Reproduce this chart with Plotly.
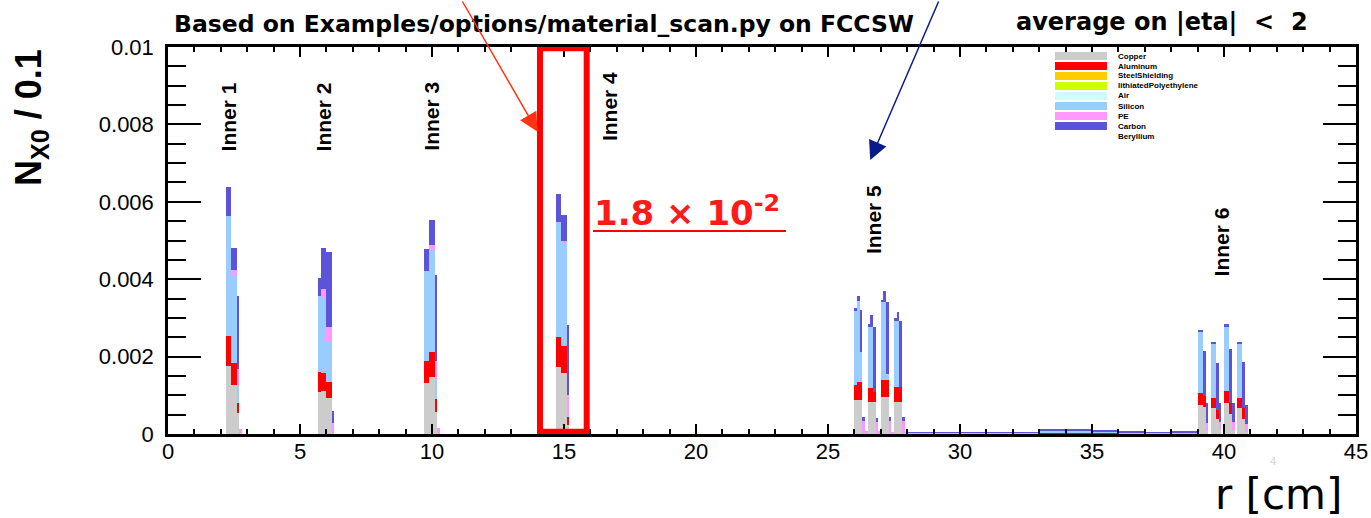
import numpy as np
import plotly.graph_objects as go

# ---- histogram bins (left edge, width) in r [cm] ----
bin_lo = [2.2, 2.3, 2.4, 2.5, 2.6, 2.7,
          5.7, 5.8, 5.9, 6.0, 6.1, 6.2,
          9.7, 9.8, 9.9, 10.0, 10.1, 10.2,
          14.7, 14.8, 14.9, 15.0, 15.1,
          26.0, 26.1, 26.2, 26.3, 26.4, 26.5, 26.6, 26.7, 26.8, 26.9,
          27.0, 27.1, 27.2, 27.3, 27.4, 27.5, 27.6, 27.7, 27.8, 27.9,
          28, 29, 30, 31, 32, 33, 34, 35, 36, 37, 38,
          39.0, 39.1, 39.2, 39.3, 39.5, 39.6, 39.7, 39.8,
          40.0, 40.1, 40.2, 40.3, 40.5, 40.6, 40.7, 40.8]
bin_w = [0.1] * 43 + [1.0] * 11 + [0.1] * 16

# ---- N_X0 per material for each bin ----
copper = [0.00176, 0.00176, 0.00127, 0.00127, 0.00053, 0,
          0.00108, 0.00112, 0.00112, 0.00092, 0.00092, 0,
          0.00133, 0.00133, 0.00147, 0.00147, 0.00058, 0,
          0.00174, 0.00174, 0.00157, 0.00157, 0.00023,
          0.00088, 0.00088, 0.00088, 0.00003, 0, 0.00083, 0.00083, 0.00083, 0.00003, 0,
          0.00096, 0.00096, 0.00096, 0.00003, 0, 0.00083, 0.00083, 0.00083, 0.00003, 0,
          0, 0, 0, 0, 0, 0, 0, 0, 0, 0, 0,
          0.00075, 0.00075, 0.0007, 0.00007, 0.00066, 0.00066, 0.0004, 0.0001,
          0.00079, 0.00079, 0.00052, 0.0001, 0.00066, 0.00066, 0.0004, 0.00005]
aluminum = [0.00078, 0.00078, 0.00057, 0.00057, 0.00028, 0,
            0.00053, 0.00045, 0.00045, 0.00043, 0.00043, 0,
            0.00056, 0.00056, 0.00066, 0.00066, 0.00032, 0,
            0.00077, 0.00077, 0.0007, 0.0007, 0.00022,
            0.00039, 0.00047, 0.00047, 0, 0, 0.00035, 0.00035, 0.00026, 0, 0,
            0.00044, 0.00044, 0.00044, 0, 0, 0.00039, 0.00039, 0.00039, 0, 0,
            0, 0, 0, 0, 0, 0.00003, 0.00003, 0.00003, 0, 0, 0,
            0.0003, 0.0003, 0.00028, 0, 0.00026, 0.00026, 0.00022, 0,
            0.00032, 0.00032, 0.00027, 0, 0.00028, 0.00028, 0.00026, 0]
steel = [0, 0, 0, 0, 0, 0,
         0, 0, 0, 0, 0, 0,
         0, 0, 0, 0, 0, 0,
         0, 0, 0, 0, 0,
         0, 0, 0, 0, 0, 0, 0, 0, 0, 0,
         0, 0, 0, 0, 0, 0, 0, 0, 0, 0,
         0, 0, 0, 0, 0, 0.00002, 0.00002, 0, 0, 0, 0,
         0, 0, 0, 0, 0, 0, 0, 0,
         0, 0, 0, 0, 0, 0, 0, 0]
lithiated_pe = [0] * 70
air = [0] * 70
silicon = [0.00309, 0.00309, 0.00226, 0.00226, 0.00046, 0,
           0.00196, 0.00194, 0.00194, 0.00105, 0.00105, 0,
           0.00232, 0.00232, 0.00262, 0.00262, 0.0005, 0,
           0.00298, 0.00298, 0.00267, 0.00267, 0.00002,
           0.00192, 0.00208, 0.00078, 0, 0, 0.00159, 0.00159, 0, 0, 0.00002,
           0.002, 0.00201, 0.00015, 0, 0, 0.00171, 0.00171, 0, 0, 0,
           0.00003, 0.00003, 0.00003, 0.00003, 0.00003, 0.00003, 0.00003,
           0.00003, 0.00003, 0.00003, 0.00003,
           0.00158, 0.00158, 0, 0, 0.00141, 0.00141, 0, 0,
           0.00166, 0.00166, 0, 0, 0.00138, 0.00138, 0, 0]
pe = [0, 0, 0.00014, 0.00014, 0.00041, 0.00013,
      0, 0.00023, 0.00023, 0.00037, 0.00037, 0.00028,
      0, 0, 0.00013, 0.00013, 0.00049, 0.00015,
      0, 0, 0.00006, 0.00006, 0.00053,
      0, 0, 0, 0.0003, 0.00008, 0, 0, 0, 0.00028, 0.00005,
      0, 0, 0, 0.0003, 0.00006, 0, 0, 0, 0.0003, 0.00005,
      0, 0, 0, 0, 0, 0, 0, 0, 0, 0, 0,
      0, 0, 0, 0.00021, 0, 0, 0, 0.00022,
      0, 0, 0, 0.00022, 0, 0, 0, 0.00022]
carbon = [0.00076, 0.00076, 0.00056, 0.00056, 0.00189, 0,
          0.00047, 0.00107, 0.00107, 0.00194, 0.00194, 0.00031,
          0.00057, 0.00057, 0.00065, 0.00065, 0.00222, 0,
          0.00071, 0.00071, 0.00066, 0.00066, 0.00181,
          0.00006, 0.00014, 0.00107, 0.0001, 0, 0.00006, 0.0003, 0.00168, 0.0001, 0,
          0.00006, 0.00029, 0.00187, 0.0001, 0, 0.00006, 0.00023, 0.00171, 0.0001, 0,
          0.00002, 0.00002, 0.00002, 0.00002, 0.00002, 0.00003, 0.00003,
          0.00003, 0.00003, 0.00002, 0.00003,
          0.00006, 0.00006, 0.00117, 0.00051, 0.00006, 0.00006, 0.00122, 0.00047,
          0.00007, 0.00007, 0.00141, 0.00047, 0.00006, 0.00006, 0.00121, 0.00047]
beryllium = [0] * 70

materials = ["Copper", "Aluminum", "SteelShielding", "lithiatedPolyethylene",
             "Air", "Silicon", "PE", "Carbon", "Beryllium"]
colors = ["#cccccc", "#ff0000", "#ffcc00", "#ccff00",
          "#ccffff", "#99ccff", "#ff99ff", "#5b54d8", "#ffffff"]
series = [copper, aluminum, steel, lithiated_pe, air, silicon, pe, carbon, beryllium]

x_ticks = [0, 5, 10, 15, 20, 25, 30, 35, 40, 45]
y_ticks = [0, 0.002, 0.004, 0.006, 0.008, 0.01]
y_ticktext = ["0", "0.002", "0.004", "0.006", "0.008", "0.01"]

inner_labels = ["Inner 1", "Inner 2", "Inner 3", "Inner 4", "Inner 5", "Inner 6"]
inner_r = [2.3, 5.9, 10.0, 16.7, 26.7, 39.9]
inner_y = [0.00820, 0.00820, 0.00820, 0.00847, 0.00555, 0.00496]

# ---- frame geometry (pixels) ----
W, H = 1371, 518
ML, MR, MT, MB = 168, 15, 47, 84
PL, PR, PT, PB = ML, W - MR, MT, H - MB


def px_x(p):
    return (p - PL) / (PR - PL)


def px_y(p):
    return (PB - p) / (PB - PT)


centers = np.array(bin_lo) + np.array(bin_w) / 2

fig = go.Figure()
for name, col, vals in zip(materials, colors, series):
    fig.add_trace(go.Bar(
        x=centers, y=vals, width=bin_w, name=name,
        marker=dict(color=col, line=dict(width=0)),
        showlegend=False,
    ))

axis_font = dict(family="Liberation Sans, Arial, sans-serif", size=22, color="black")

fig.update_layout(
    width=W, height=H,
    margin=dict(l=ML, r=MR, t=MT, b=MB, pad=0, autoexpand=False),
    barmode="stack", bargap=0, showlegend=False,
    plot_bgcolor="white", paper_bgcolor="white",
    xaxis=dict(
        range=[0, 45], tickvals=x_ticks, ticktext=[str(v) for v in x_ticks],
        ticks="inside", ticklen=10, tickwidth=2, tickcolor="black",
        minor=dict(dtick=1, ticks="inside", ticklen=5, tickwidth=2, tickcolor="black"),
        showline=True, linewidth=2.5, linecolor="black", mirror="ticks",
        showgrid=False, zeroline=False, tickfont=axis_font, ticklabelstandoff=-4,
        automargin=False,
    ),
    yaxis=dict(
        range=[0, 0.01], tickvals=y_ticks, ticktext=y_ticktext,
        ticks="inside", ticklen=33, tickwidth=2, tickcolor="black",
        minor=dict(dtick=0.0005, ticks="inside", ticklen=18, tickwidth=2, tickcolor="black"),
        showline=True, linewidth=2.5, linecolor="black", mirror="ticks",
        showgrid=False, zeroline=False, tickfont=axis_font, ticklabelstandoff=7,
        automargin=False,
    ),
)

annotations = []

# layer labels
for lab, r, yv in zip(inner_labels, inner_r, inner_y):
    annotations.append(dict(
        x=r, y=yv, xref="x", yref="y", text=f"<b>{lab}</b>", showarrow=False,
        textangle=-90, xanchor="center", yanchor="middle",
        font=dict(family="Liberation Sans, Arial, sans-serif", size=21, color="black"),
    ))

# titles
annotations.append(dict(
    x=px_x(544), y=px_y(24), xref="paper", yref="paper",
    text="<b>Based on Examples/options/material_scan.py on FCCSW</b>",
    showarrow=False, xanchor="center", yanchor="middle",
    font=dict(family="DejaVu Sans, sans-serif", size=23.5, color="black"),
))
annotations.append(dict(
    x=px_x(1162), y=px_y(22), xref="paper", yref="paper",
    text="<b>average on |eta| &nbsp;&lt;&nbsp; 2</b>",
    showarrow=False, xanchor="center", yanchor="middle",
    font=dict(family="DejaVu Sans, sans-serif", size=24, color="black"),
))
annotations.append(dict(
    x=px_x(31), y=px_y(118), xref="paper", yref="paper",
    text="<b>N<sub>X0</sub> / 0.1</b>", textangle=-90,
    showarrow=False, xanchor="center", yanchor="middle",
    font=dict(family="Liberation Sans, Arial, sans-serif", size=36, color="black"),
))
annotations.append(dict(
    x=px_x(1344), y=px_y(495), xref="paper", yref="paper",
    text="r [cm]", showarrow=False, xanchor="right", yanchor="middle",
    font=dict(family="DejaVu Sans, sans-serif", size=42, color="black"),
))
annotations.append(dict(
    x=px_x(1273), y=px_y(461), xref="paper", yref="paper",
    text="4", showarrow=False, xanchor="center", yanchor="middle",
    font=dict(family="Liberation Sans, Arial, sans-serif", size=11, color="#d4d4d4"),
))

# highlighted value
annotations.append(dict(
    x=px_x(592), y=px_y(211), xref="paper", yref="paper",
    text="<b>1.8 × 10<sup>-2</sup></b>", showarrow=False,
    xanchor="left", yanchor="middle",
    font=dict(family="DejaVu Sans, sans-serif", size=34, color="#ff1a1a"),
))

# arrows
annotations.append(dict(
    x=14.0, y=0.00781, xref="x", yref="y", text="", showarrow=True,
    axref="pixel", ayref="pixel", ax=-76, ay=-132,
    arrowhead=2, arrowsize=2.5, arrowwidth=1.5, arrowcolor="#ff3311",
))
annotations.append(dict(
    x=26.6, y=0.00708, xref="x", yref="y", text="", showarrow=True,
    axref="pixel", ayref="pixel", ax=69, ay=-160,
    arrowhead=2, arrowsize=2.5, arrowwidth=1.5, arrowcolor="#0b1a8a",
))

shapes = [
    dict(type="rect", xref="x", yref="y", x0=14.09, x1=15.86, y0=0.00006, y1=0.00997,
         line=dict(color="#ff0000", width=6), fillcolor="rgba(0,0,0,0)"),
    dict(type="line", xref="paper", yref="paper", x0=px_x(593), x1=px_x(786),
         y0=px_y(231), y1=px_y(231), line=dict(color="#ff0000", width=2)),
]

# legend box: swatches and labels
for i, (name, col) in enumerate(zip(materials, colors)):
    yc = 56 + 10 * i
    if name != "Beryllium":
        shapes.append(dict(
            type="rect", xref="paper", yref="paper",
            x0=px_x(1055), x1=px_x(1107), y0=px_y(yc + 4), y1=px_y(yc - 4),
            line=dict(width=0), fillcolor=col,
        ))
    annotations.append(dict(
        x=px_x(1116), y=px_y(yc), xref="paper", yref="paper",
        text=f"<b>{name}</b>", showarrow=False, xanchor="left", yanchor="middle",
        font=dict(family="Liberation Sans, Arial, sans-serif", size=8, color="black"),
    ))

fig.update_layout(annotations=annotations, shapes=shapes)

fig.write_html("out.html")
